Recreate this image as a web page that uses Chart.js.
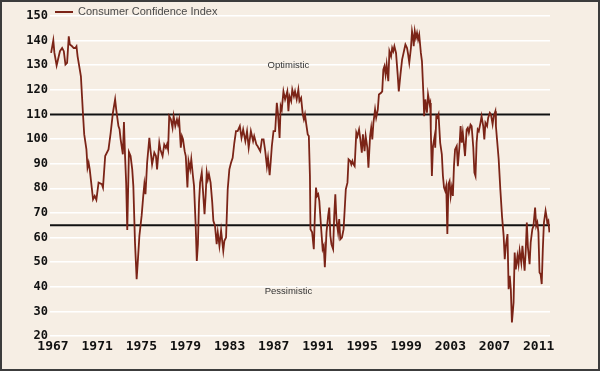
<!DOCTYPE html>
<html>
<head>
<meta charset="utf-8">
<script src="https://cdn.jsdelivr.net/npm/chart.js@4.4.1/dist/chart.umd.min.js"></script>
<style>
  html, body { margin: 0; padding: 0; background: #f6eee4; }
  canvas { display: block; }
</style>
</head>
<body>
<canvas id="chart" width="600" height="371"></canvas>
<script>
// monthly-ish readings of the index
const years = [
  1967.1, 1967.3, 1967.4, 1967.6, 1967.9, 1968.1, 1968.25, 1968.4, 1968.55, 1968.7, 1968.8, 1969.0, 1969.15, 1969.3, 1969.4, 1969.5, 1969.7, 1969.8, 1969.9,
  1970.0, 1970.1, 1970.3, 1970.4, 1970.5, 1970.6, 1970.8, 1970.9, 1971.05, 1971.2, 1971.4, 1971.7, 1971.8, 1972.0, 1972.3, 1972.5, 1972.7, 1972.9,
  1973.0, 1973.2, 1973.3, 1973.4, 1973.6, 1973.7, 1973.8, 1973.9, 1974.0, 1974.15, 1974.3, 1974.45, 1974.55, 1974.7, 1974.85, 1974.95,
  1975.1, 1975.3, 1975.45, 1975.55, 1975.65, 1975.8, 1976.0, 1976.1, 1976.25, 1976.45, 1976.6, 1976.7, 1976.9, 1977.0, 1977.2, 1977.35, 1977.5, 1977.6, 1977.7, 1977.8, 1977.95,
  1978.1, 1978.2, 1978.35, 1978.5, 1978.6, 1978.7, 1978.85, 1978.95, 1979.05, 1979.2, 1979.3, 1979.45, 1979.55, 1979.7, 1979.8, 1979.95,
  1980.05, 1980.2, 1980.3, 1980.4, 1980.5, 1980.6, 1980.75, 1980.85, 1981.0, 1981.1, 1981.2, 1981.3, 1981.4, 1981.55, 1981.7, 1981.8, 1981.95,
  1982.1, 1982.2, 1982.35, 1982.5, 1982.7, 1982.8, 1982.95, 1983.1, 1983.25, 1983.4, 1983.55, 1983.7, 1983.85, 1984.0, 1984.2, 1984.35, 1984.5, 1984.7, 1984.85,
  1985.0, 1985.2, 1985.4, 1985.5, 1985.7, 1985.8, 1986.05, 1986.2, 1986.35, 1986.5, 1986.65, 1986.75, 1986.9, 1987.0, 1987.1, 1987.25, 1987.4, 1987.55, 1987.65, 1987.8, 1987.9,
  1988.0, 1988.15, 1988.3, 1988.5, 1988.6, 1988.7, 1988.85, 1988.95, 1989.1, 1989.2, 1989.35, 1989.5, 1989.6, 1989.75, 1989.9,
  1990.0, 1990.1, 1990.2, 1990.35, 1990.45, 1990.55, 1990.6, 1990.75, 1990.9, 1991.0, 1991.1, 1991.2, 1991.3, 1991.4, 1991.55, 1991.7, 1991.8, 1991.9,
  1992.05, 1992.2, 1992.3, 1992.4, 1992.5, 1992.65, 1992.75, 1992.85, 1992.95, 1993.1, 1993.2, 1993.3, 1993.45, 1993.6, 1993.7, 1993.8, 1993.95,
  1994.05, 1994.2, 1994.3, 1994.4, 1994.5, 1994.6, 1994.75, 1994.85, 1995.0, 1995.1, 1995.25, 1995.35, 1995.5, 1995.6, 1995.75, 1995.85,
  1996.0, 1996.1, 1996.2, 1996.3, 1996.45, 1996.55, 1996.7, 1996.8, 1997.0, 1997.1, 1997.2, 1997.3, 1997.4, 1997.5, 1997.65, 1997.75, 1997.9,
  1998.0, 1998.1, 1998.2, 1998.35, 1998.5, 1998.6, 1998.75, 1998.9, 1999.0, 1999.1, 1999.2, 1999.35, 1999.45, 1999.55, 1999.7, 1999.8, 1999.9, 1999.95,
  2000.05, 2000.15, 2000.25, 2000.35, 2000.45, 2000.6, 2000.7, 2000.85, 2000.9, 2001.0, 2001.15, 2001.25, 2001.4, 2001.45, 2001.5, 2001.6, 2001.7, 2001.85, 2001.9,
  2002.0, 2002.1, 2002.2, 2002.35, 2002.5, 2002.6, 2002.7, 2002.8, 2002.9, 2003.0, 2003.1, 2003.2, 2003.3, 2003.4, 2003.5, 2003.6, 2003.7, 2003.85, 2003.95,
  2004.1, 2004.2, 2004.3, 2004.4, 2004.6, 2004.75, 2004.85, 2004.95, 2005.1, 2005.2, 2005.35, 2005.45, 2005.55, 2005.65, 2005.75, 2005.85,
  2006.0, 2006.1, 2006.25, 2006.35, 2006.45, 2006.6, 2006.7, 2006.85, 2006.95, 2007.1, 2007.2, 2007.35, 2007.4, 2007.5, 2007.65, 2007.7, 2007.8, 2007.95,
  2008.1, 2008.2, 2008.3, 2008.45, 2008.55, 2008.65, 2008.75, 2008.85, 2009.0, 2009.1, 2009.2, 2009.35, 2009.45, 2009.55, 2009.7, 2009.8,
  2010.0, 2010.1, 2010.2, 2010.3, 2010.45, 2010.55, 2010.7, 2010.8, 2010.95, 2011.05, 2011.15, 2011.25, 2011.35, 2011.45, 2011.55, 2011.65, 2011.75, 2011.9,
  2012.0, 2012.05, 2012.15, 2012.25
];
const confidence = [
  135, 140.1, 135, 129.9, 135.7, 137, 135.7, 130.3, 131, 141.7, 138.4, 137.7, 137, 137, 137.7, 133.6, 128.2, 125.5, 117.4,
  109.3, 101.9, 95.8, 88.4, 90.4, 87.7, 79.6, 75.5, 76.9, 75.3, 82.3, 81.7, 80.3, 93.1, 95.8, 102.6, 110.7, 116.1,
  112, 105.3, 104, 99.9, 93.8, 106.9, 93.1, 82.3, 63.1, 94.7, 93.1, 87.7, 81, 58, 43.1, 49.9,
  60.7, 68.8, 76.9, 81.7, 77.6, 90.4, 100.5, 95.8, 89.7, 94.5, 93.1, 87.7, 98.5, 95.8, 93.1, 97.8, 96.4, 97.8, 95.8, 109.3, 108,
  104.6, 109.3, 105.3, 108, 106, 108, 96.5, 101.2, 99.9, 95.1, 93.1, 80.3, 91.1, 87.7, 91.8, 85,
  81, 64.7, 50.5, 57.3, 74.2, 82.3, 86.4, 79.6, 69.5, 77, 86.4, 83.6, 85.7, 82.3, 74.2, 66.8, 64.7,
  57.3, 62.1, 56.6, 62.8, 54.6, 58.7, 60, 79.6, 87.7, 90.4, 92.4, 98.5, 103.2, 103.2, 105.3, 100.5, 103.9, 99.2, 103.2,
  96.5, 103.2, 99.2, 101.2, 97.8, 97.2, 95.1, 99.9, 99.9, 95.1, 89, 92.4, 85.3, 91, 97.2, 103.2, 103.2, 114.7, 110.7, 100.5, 113.4,
  112, 119.4, 116.1, 119.4, 111.3, 117.4, 115.4, 120.1, 117.4, 119.4, 116.1, 120.1, 115.4, 116.7, 110,
  108, 110, 106.6, 101.9, 101.2, 85, 63.4, 62.1, 55.3, 69.5, 80.3, 76.9, 77.6, 74.9, 64.7, 55.3, 56.6, 47.9,
  62.1, 68.8, 72.2, 60.8, 57.3, 55.3, 68.8, 77.6, 67.5, 62.1, 67.5, 59.3, 60, 63.4, 71.5, 79.6, 82.3,
  91.8, 91.1, 89.7, 91.1, 89.7, 89, 102.6, 101.2, 103.9, 100.5, 94.5, 101.9, 95.1, 101.2, 96.5, 88.4,
  101.2, 104.6, 99.9, 106.6, 112, 108.7, 112, 118.1, 118.8, 119.4, 128.2, 129.6, 126.2, 130.3, 123.5, 135.7, 133.6,
  137, 135.7, 137.7, 135, 126.2, 119.4, 126.2, 132.3, 134.3, 136.4, 138.4, 137, 134.3, 131, 137, 143.8, 141.1, 137.7,
  143.8, 141.1, 143.1, 140.4, 142.4, 135, 131.6, 116.1, 109.3, 116.1, 110.7, 118.1, 114, 114.7, 103.9, 85, 97.2, 101.2, 96.5,
  109.3, 108.7, 110, 98.5, 93.8, 85, 80.3, 79, 81, 61.4, 81.7, 82.9, 76.9, 80.3, 76.9, 89, 95.8, 97.2, 89,
  97.2, 105.3, 98.5, 102.6, 93.1, 103.9, 104.6, 102.6, 105.9, 105.3, 96.5, 86.4, 85, 98.5, 103.9, 103.2,
  106.6, 109.3, 105.3, 99.9, 106.6, 105.3, 108.7, 110.7, 110, 106, 109.3, 111.3, 105.3, 99.9, 91.8, 87.7, 79.6, 68.8,
  60.7, 51.2, 56.6, 61.4, 39, 44.4, 39, 25.5, 33.6, 53.9, 47.1, 52.5, 49.2, 54.6, 49.8, 56.6,
  46.5, 54.6, 66.1, 56, 49.2, 58, 63.4, 64.7, 72.2, 64.7, 66.1, 62.1, 45.8, 45.1, 41.1, 55.3, 66.1, 70.8,
  68.1, 66.1, 66.8, 62.1
];
const xTicks = [1967, 1971, 1975, 1979, 1983, 1987, 1991, 1995, 1999, 2003, 2007, 2011];
const thresholds = [110, 65];
const zoneLabels = ['Optimistic', 'Pessimistic'];

const xMin = 1967, xMax = 2012.3;
const lineColor = '#7b2417';

const decorations = {
  id: 'decorations',
  beforeDraw(chart) {
    const ctx = chart.ctx;
    ctx.save();
    ctx.fillStyle = '#f6eee4';
    ctx.fillRect(0, 0, chart.width, chart.height);
    ctx.restore();
  },
  afterDraw(chart) {
    const ctx = chart.ctx;
    const xs = chart.scales.x, ys = chart.scales.y;
    ctx.save();
    // legend
    ctx.strokeStyle = lineColor;
    ctx.lineWidth = 2;
    ctx.beginPath();
    ctx.moveTo(55, 12);
    ctx.lineTo(73, 12);
    ctx.stroke();
    ctx.fillStyle = '#4a4a4a';
    ctx.font = '11px "Liberation Sans", Arial, sans-serif';
    ctx.textBaseline = 'middle';
    ctx.textAlign = 'left';
    ctx.fillText(chart.data.datasets[0].label, 78, 12);
    // zone labels
    ctx.fillStyle = '#333';
    ctx.font = '9.5px "Liberation Sans", Arial, sans-serif';
    ctx.textAlign = 'center';
    ctx.fillText(zoneLabels[0], xs.getPixelForValue(1988.6), ys.getPixelForValue(130));
    ctx.fillText(zoneLabels[1], xs.getPixelForValue(1988.6), ys.getPixelForValue(38.2));
    // frame
    ctx.strokeStyle = '#3c3c3c';
    ctx.lineWidth = 2;
    ctx.strokeRect(1, 1, chart.width - 2, chart.height - 2);
    ctx.restore();
  }
};

const points = years.map((yr, i) => ({ x: yr, y: confidence[i] }));

new Chart(document.getElementById('chart'), {
  type: 'line',
  data: {
    datasets: [
      {
        label: 'Consumer Confidence Index',
        data: points,
        borderColor: lineColor,
        borderWidth: 1.8,
        pointRadius: 0,
        tension: 0,
        order: 0
      },
      ...thresholds.map(t => ({
        label: 'level ' + t,
        data: [{ x: xMin, y: t }, { x: xMax, y: t }],
        borderColor: '#111',
        borderWidth: 2,
        pointRadius: 0,
        order: 1
      }))
    ]
  },
  options: {
    responsive: false,
    animation: false,
    layout: { padding: { left: 0, right: 50, top: 16, bottom: 0 } },
    plugins: {
      legend: { display: false },
      tooltip: { enabled: false }
    },
    scales: {
      x: {
        type: 'linear',
        min: xMin,
        max: xMax,
        afterBuildTicks: s => { s.ticks = xTicks.map(v => ({ value: v })); },
        afterFit: s => { s.height = 35; },
        grid: { display: false, drawTicks: false },
        border: { display: false },
        ticks: {
          autoSkip: false,
          maxRotation: 0,
          padding: 3,
          labelOffset: 3,
          color: '#111',
          font: { family: '"DejaVu Sans Mono", monospace', size: 13, weight: 'bold' },
          callback: v => String(v)
        }
      },
      y: {
        min: 20,
        max: 150,
        afterFit: s => { s.width = 50; },
        grid: { color: '#ffffff', lineWidth: 1.5, drawTicks: false },
        border: { display: false },
        ticks: {
          stepSize: 10,
          padding: 2,
          color: '#111',
          font: { family: '"DejaVu Sans Mono", monospace', size: 12, weight: 'bold' }
        }
      }
    }
  },
  plugins: [decorations]
});
</script>
</body>
</html>
